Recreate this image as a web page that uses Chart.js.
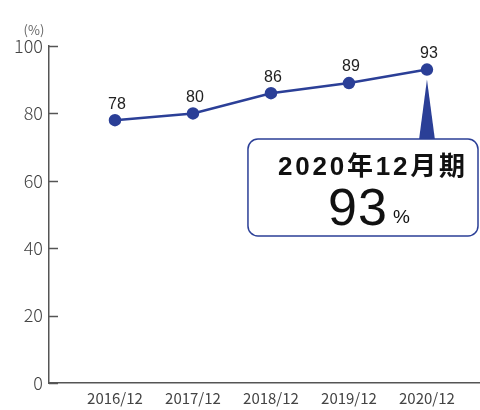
<!DOCTYPE html>
<html lang="ja">
  <head>
    <meta charset="UTF-8" />
    <title>Rate</title>
    <script src="https://cdn.jsdelivr.net/npm/chart.js@4.4.0/dist/chart.umd.min.js"></script>
    <style>
      html, body { margin: 0; padding: 0; background: #fff; }
      #wrap { width: 480px; height: 410px; }
    </style>
  </head>
  <body>
    <div id="wrap"><canvas id="chart" width="480" height="410"></canvas></div>
    <script>
      // fiscal periods and values (%)
      const periods = ["2016/12", "2017/12", "2018/12", "2019/12", "2020/12"];
      const rates = [78, 80, 86, 89, 93];
      const yTicks = [0, 20, 40, 60, 80, 100];
      const calloutTitle = "2020年12月期";
      const calloutValue = "93";
      const unitLabel = "(%)";

      const BLUE = "#2b3f97";
      const AXIS = "#555";
      const JP = "'Noto Sans CJK JP', 'Noto Sans', sans-serif";
      const LATIN = "'Liberation Sans', 'Noto Sans CJK JP', sans-serif";

      // value labels, inward ticks on the y axis, unit label and the callout
      const extras = {
        id: "extras",
        afterDatasetsDraw(chart) {
          const ctx = chart.ctx;
          const y = chart.scales.y;
          const area = chart.chartArea;
          const pts = chart.getDatasetMeta(0).data;

          ctx.save();
          // tick marks pointing into the plot
          ctx.strokeStyle = AXIS;
          ctx.lineWidth = 1.5;
          yTicks.forEach((v) => {
            const py = Math.round(y.getPixelForValue(v)) + 0.5;
            ctx.beginPath();
            ctx.moveTo(area.left, py);
            ctx.lineTo(area.left + 9, py);
            ctx.stroke();
          });

          // unit
          ctx.fillStyle = "#666";
          ctx.font = "13px " + JP;
          ctx.textAlign = "center";
          ctx.textBaseline = "middle";
          ctx.fillText(unitLabel, 34, 30);

          // value above each point
          ctx.fillStyle = "#222";
          ctx.font = "16px " + LATIN;
          ctx.textBaseline = "bottom";
          pts.forEach((p, i) => {
            ctx.fillText(String(rates[i]), p.x + 2, p.y - 8);
          });

          // callout for the latest period
          const last = pts[pts.length - 1];
          const bx = last.x - 179, by = 139, bw = area.right - 2 - bx, bh = 97;
          ctx.fillStyle = BLUE;
          ctx.beginPath();
          ctx.moveTo(last.x, last.y + 10);
          ctx.lineTo(last.x + 8, by + 1);
          ctx.lineTo(last.x - 8, by + 1);
          ctx.closePath();
          ctx.fill();

          ctx.beginPath();
          ctx.roundRect(bx, by, bw, bh, 10);
          ctx.fillStyle = "#fff";
          ctx.fill();
          ctx.strokeStyle = BLUE;
          ctx.lineWidth = 1.5;
          ctx.stroke();

          ctx.fillStyle = "#111";
          ctx.textAlign = "left";
          ctx.textBaseline = "alphabetic";
          ctx.letterSpacing = "2.8px";
          ctx.font = "bold 26px " + LATIN;
          ctx.fillText(calloutTitle, bx + 30, 175);

          ctx.letterSpacing = "1px";
          ctx.font = "52px " + LATIN;
          ctx.fillText(calloutValue, bx + 80, 225);
          ctx.letterSpacing = "0px";
          ctx.font = "19px " + LATIN;
          ctx.fillText("%", bx + 145, 223);
          ctx.restore();
        },
      };

      new Chart(document.getElementById("chart"), {
        type: "line",
        data: {
          datasets: [
            {
              data: rates.map((v, i) => ({ x: i, y: v })),
              borderColor: BLUE,
              backgroundColor: BLUE,
              borderWidth: 2.5,
              pointRadius: 5,
              pointHoverRadius: 5,
              tension: 0,
            },
          ],
        },
        options: {
          responsive: false,
          animation: false,
          layout: { autoPadding: false, padding: { top: 46, left: 0, right: 0, bottom: 0 } },
          plugins: { legend: { display: false }, tooltip: { enabled: false } },
          scales: {
            x: {
              type: "linear",
              min: -0.846,
              max: 4.68,
              afterBuildTicks: (s) => {
                s.ticks = periods.map((_, i) => ({ value: i }));
              },
              afterFit: (s) => {
                s.height = 27;
                s.paddingLeft = 0;
                s.paddingRight = 0;
              },
              grid: { display: false, drawTicks: false },
              border: { display: true, color: AXIS, width: 1.5 },
              ticks: {
                padding: 6,
                color: "#444",
                font: { family: JP, size: 15 },
                callback: (v) => periods[v] ?? "",
              },
            },
            y: {
              min: 0,
              max: 100,
              afterBuildTicks: (s) => {
                s.ticks = yTicks.map((v) => ({ value: v }));
              },
              afterFit: (s) => {
                s.width = 49;
                s.paddingTop = 0;
                s.paddingBottom = 0;
              },
              grid: { display: false, drawTicks: false },
              border: { display: true, color: AXIS, width: 1.5 },
              ticks: {
                padding: 6,
                color: "#444",
                font: { family: JP, size: 18, weight: "300" },
              },
            },
          },
        },
        plugins: [extras],
      });
    </script>
  </body>
</html>
